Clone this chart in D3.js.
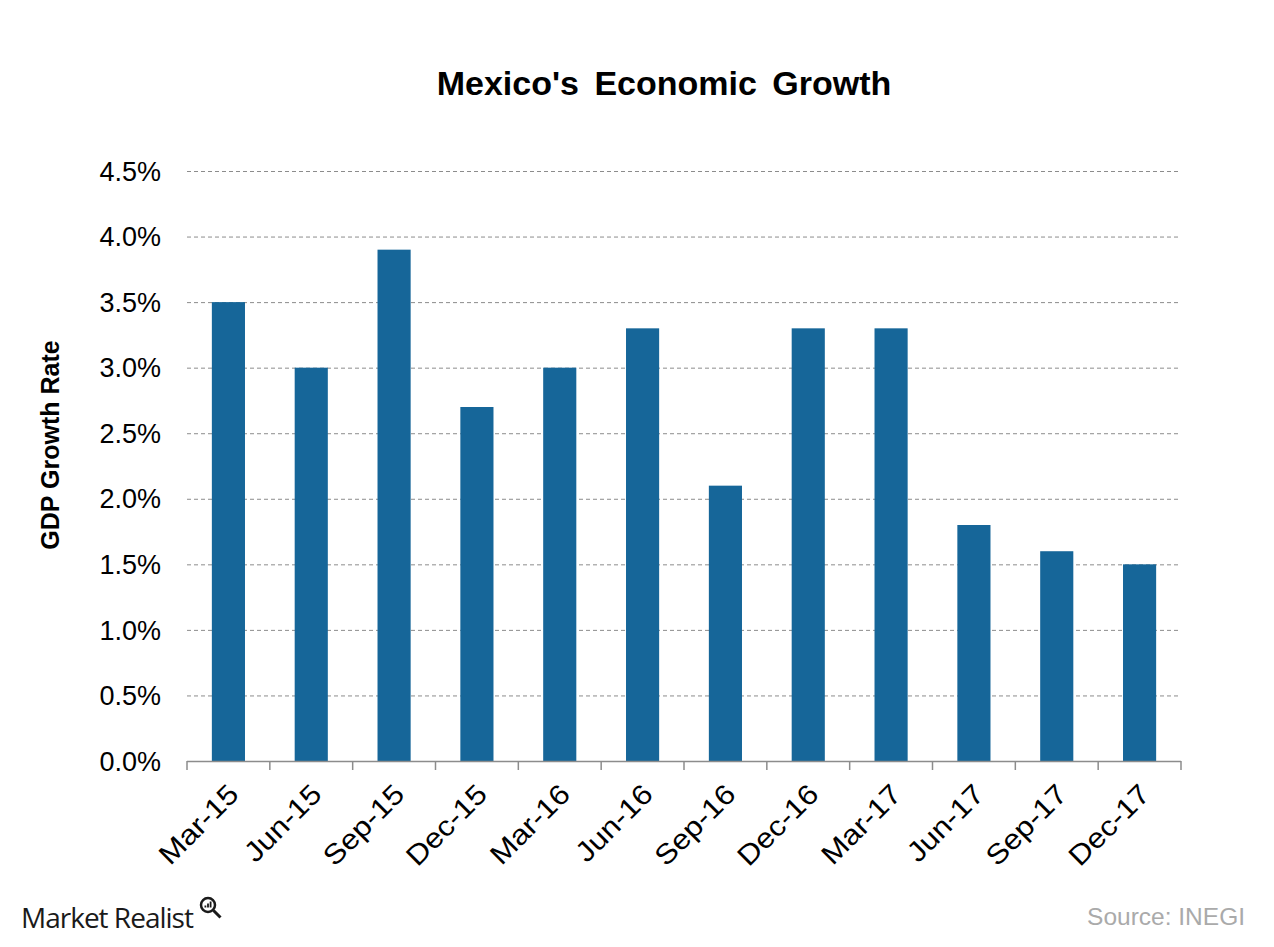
<!DOCTYPE html>
<html><head><meta charset="utf-8">
<script src="https://cdn.jsdelivr.net/npm/d3@7"></script>
<style>body{margin:0;background:#fff;} svg{display:block;font-family:"Liberation Sans",Arial,sans-serif;}</style>
</head><body>
<svg id="c" width="1274" height="947"></svg>
<script>
const categories = ["Mar-15","Jun-15","Sep-15","Dec-15","Mar-16","Jun-16","Sep-16","Dec-16","Mar-17","Jun-17","Sep-17","Dec-17"];
const values = [3.5,3.0,3.9,2.7,3.0,3.3,2.1,3.3,3.3,1.8,1.6,1.5];
const yTicks = [0,0.5,1.0,1.5,2.0,2.5,3.0,3.5,4.0,4.5];

const svg = d3.select("#c");
const L=187, R=1181, T=171, B=761;
const x = d3.scaleBand().domain(categories).range([L,R]).paddingInner(0.6).paddingOuter(0.3);
const xb = d3.scaleBand().domain(categories).range([L,R]);
const y = d3.scaleLinear().domain([0,4.5]).range([B,T]);

// gridlines
svg.append("g").selectAll("line").data(yTicks.filter(d=>d>0)).join("line")
  .attr("x1",L).attr("x2",R).attr("y1",d=>y(d)+0.5).attr("y2",d=>y(d)+0.5)
  .attr("stroke","#8c8c8c").attr("stroke-width",1).attr("stroke-dasharray","4,3");

// bars
svg.append("g").selectAll("rect").data(values).join("rect")
  .attr("x",(d,i)=>x(categories[i])).attr("width",x.bandwidth())
  .attr("y",d=>y(d)).attr("height",d=>B-y(d)).attr("fill","#166699");

// x axis line + ticks
const ax = svg.append("g");
ax.append("line").attr("x1",L).attr("x2",R).attr("y1",B+0.5).attr("y2",B+0.5).attr("stroke","#8c8c8c").attr("stroke-width",1.5);
const tickPos = categories.map(c=>xb(c)).concat([R]);
ax.selectAll("line.t").data(tickPos).join("line").attr("class","t")
  .attr("x1",d=>d).attr("x2",d=>d).attr("y1",B).attr("y2",B+9).attr("stroke","#8c8c8c").attr("stroke-width",1.5);

// x labels
svg.append("g").selectAll("text").data(categories).join("text")
  .attr("transform",d=>`translate(${xb(d)+xb.bandwidth()/2+12},796) rotate(-45) scale(1.12,1)`)
  .attr("text-anchor","end").attr("font-size",28).attr("fill","#000").text(d=>d);

// y labels
svg.append("g").selectAll("text").data(yTicks).join("text")
  .attr("x",161).attr("y",d=>y(d)).attr("dy","0.36em").attr("text-anchor","end")
  .attr("font-size",27).attr("fill","#000").text(d=>d.toFixed(1)+"%");

// title
svg.append("text").attr("x",664).attr("y",95).attr("text-anchor","middle")
  .attr("font-size",34).attr("font-weight","bold").attr("word-spacing","6").text("Mexico's Economic Growth");

// y title
svg.append("text").attr("transform","translate(59,445) rotate(-90)").attr("text-anchor","middle")
  .attr("font-size",25).attr("font-weight","bold").text("GDP Growth Rate");

// source
svg.append("text").attr("x",1245).attr("y",925).attr("text-anchor","end").attr("font-size",24.5).attr("fill","#aaaaaa").text("Source: INEGI");

// logo
svg.append("text").attr("x",21).attr("y",928).attr("font-size",28).attr("fill","#1a1a1a")
  .attr("font-family","'Open Sans',sans-serif").attr("letter-spacing","-1").text("Market Realist");
const lg = svg.append("g").attr("transform","translate(208,905)");
lg.append("circle").attr("r",7).attr("fill","none").attr("stroke","#1a1a1a").attr("stroke-width",2.5);
lg.append("line").attr("x1",5.5).attr("y1",5.5).attr("x2",12.5).attr("y2",12.5).attr("stroke","#1a1a1a").attr("stroke-width",3);
lg.append("rect").attr("x",-3.5).attr("y",0.5).attr("width",1.8).attr("height",2).attr("fill","#1a1a1a");
lg.append("rect").attr("x",-0.9).attr("y",-1.5).attr("width",1.8).attr("height",4).attr("fill","#1a1a1a");
lg.append("rect").attr("x",1.7).attr("y",-3.5).attr("width",1.8).attr("height",6).attr("fill","#1a1a1a");
</script>
</body></html>
